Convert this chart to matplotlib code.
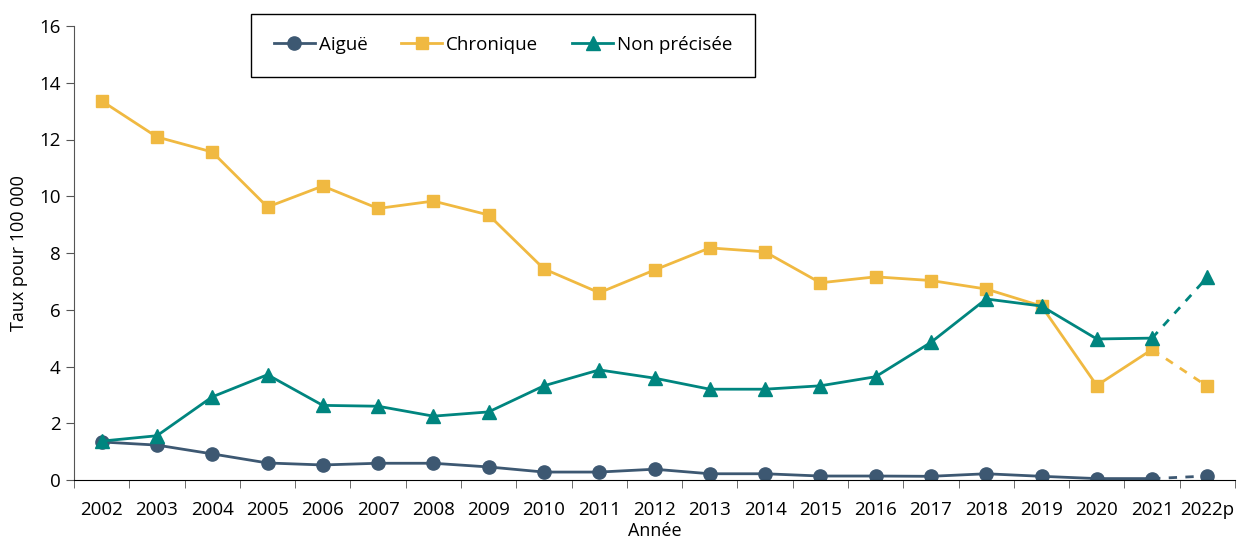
import matplotlib
matplotlib.use('Agg')
from matplotlib import pyplot as plt, ticker
import numpy as np

plt.rcParams['font.family'] = ['Open Sans', 'DejaVu Sans']

annees = ['2002', '2003', '2004', '2005', '2006', '2007', '2008', '2009', '2010', '2011',
          '2012', '2013', '2014', '2015', '2016', '2017', '2018', '2019', '2020', '2021', '2022p']
aigue = [1.34, 1.23, 0.92, 0.60, 0.53, 0.59, 0.59, 0.46, 0.28, 0.28,
         0.38, 0.22, 0.22, 0.14, 0.14, 0.13, 0.22, 0.13, 0.05, 0.05, 0.14]
chronique = [13.36, 12.09, 11.56, 9.62, 10.36, 9.57, 9.83, 9.34, 7.44, 6.60,
             7.40, 8.18, 8.04, 6.95, 7.16, 7.03, 6.73, 6.13, 3.33, 4.60, 3.30]
non_precisee = [1.37, 1.56, 2.93, 3.71, 2.63, 2.60, 2.25, 2.40, 3.32, 3.88,
                3.59, 3.20, 3.20, 3.32, 3.64, 4.85, 6.38, 6.13, 4.97, 5.00, 7.15]

series = [('Aiguë', aigue, '#3d5872', 'o', 9.5),
          ('Chronique', chronique, '#f0b941', 's', 9),
          ('Non précisée', non_precisee, '#00857f', '^', 9.5)]

fig = plt.figure(figsize=(12.37, 5.42), dpi=100)
ax = fig.add_axes([74/1237, 1 - 480/542, 1161/1237, 454/542])

x = np.arange(len(annees))
for nom, vals, col, mk, ms in series:
    ax.plot(x[:-1], vals[:-1], color=col, lw=2, marker=mk, ms=ms, label=nom)
    ax.plot(x[-2:], vals[-2:], color=col, lw=2, ls=(0, (3, 3)))
    ax.plot(x[-1], vals[-1], color=col, marker=mk, ms=ms, ls='none')

ax.set_xlim(-0.5, len(annees) - 0.5)
ax.set_ylim(0, 16)
ax.set_xticks(x)
ax.set_xticklabels(annees, fontsize=13.5)
ax.xaxis.set_minor_locator(ticker.FixedLocator(np.arange(-0.5, len(annees), 1)))
ax.tick_params(axis='x', which='major', length=0, pad=15)
ax.tick_params(axis='x', which='minor', length=6, direction='out', color='#555555')
ax.set_yticks(range(0, 17, 2))
ax.tick_params(axis='y', labelsize=13.5, length=6, color='#555555')

for s in ['top', 'right']:
    ax.spines[s].set_visible(False)
ax.spines['left'].set_color('#555555')
ax.spines['bottom'].set_color('#000000')

ax.set_xlabel('Année', fontsize=13, labelpad=2)
ax.set_ylabel('Taux pour 100 000', fontsize=13, labelpad=8)

leg = ax.legend(loc='center', bbox_to_anchor=(503/1237, 1 - 45/542), bbox_transform=fig.transFigure,
                ncol=3, fontsize=13.5, fancybox=False, edgecolor='black', framealpha=1,
                handlelength=2.2, handletextpad=0.2, columnspacing=1.8,
                borderpad=1.2, borderaxespad=0)
leg.get_frame().set_linewidth(1)

plt.savefig('out.png', dpi=100)
